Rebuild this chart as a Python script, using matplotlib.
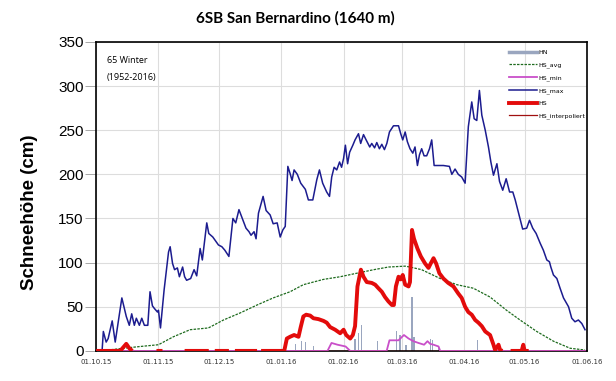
import numpy as np
import pandas as pd
import matplotlib
matplotlib.use('Agg')
import matplotlib.pyplot as plt
import matplotlib.dates as mdates
from matplotlib.lines import Line2D

start = pd.Timestamp('2015-10-01')

# HS_max (blue)
max_days = [0, 3, 3.6, 5, 6, 8, 9.5, 12.8, 15, 16.5, 17.7, 19, 20, 21.5, 22.7, 24, 25.7, 26.8, 28, 29, 30.5, 31, 32,
            33.8, 36, 36.8, 38, 39, 40.4, 41.4, 43, 44, 45, 47, 48.7, 50, 51.7, 52.8, 55, 56, 58, 60.8, 62.5, 64, 66,
            68, 69.4, 71, 73, 74.5, 76, 77, 78.5, 79.5, 80.7, 83, 84.5, 86.5, 88, 90, 91.5, 92.8, 94, 95.3, 96.4,
            97.4, 98.4, 100, 101.7, 104, 105.5, 107.7, 109.7, 111, 112.6, 114.6, 116, 117.1, 118.3, 119.6, 121, 122,
            123, 123.9, 125, 126, 127.6, 128.7, 130.4, 131.5, 132.9, 134.2, 136, 137, 138.4, 139.5, 140.8, 142,
            143.3, 144.5, 145.8, 147.8, 150.3, 151.4, 152.4, 153.6, 154.7, 156, 157.4, 158.5, 159.7, 160.7, 161.8,
            163, 164.3, 165.7, 166.8, 168, 170.2, 172.6, 175.6, 176.8, 178.4, 180, 181.7, 183.4, 185, 186.7, 187.9,
            189.2, 190.5, 191.7, 193.4, 195, 196.2, 197.5, 199.2, 200.5, 202.1, 203.8, 205.5, 207.1, 208.3, 210,
            212, 214, 215.4, 217, 218.7, 220.7, 222.3, 224, 225.3, 226, 227.3, 229, 230.6, 232.3, 234.8, 236.4, 238,
            239.7, 241.4, 243]
max_vals = [1, 1, 22, 10, 14, 34, 10, 60, 39, 29, 42, 29, 37, 29, 37, 29, 29, 67, 51, 48, 44, 46, 26,
            69, 112, 118, 99, 92, 94, 84, 95, 84, 80, 82, 92, 85, 116, 103, 145, 133, 129, 120, 118, 114, 107,
            150, 145, 160, 148, 139, 135, 131, 135, 127, 156, 175, 159, 154, 144, 145, 129, 137, 141, 209, 201,
            193, 205, 200, 190, 183, 171, 171, 194, 205, 190, 180, 175, 197, 208, 205, 214, 208,
            218, 233, 212, 225, 233, 239, 246, 235, 245, 239, 231, 235, 230, 236, 229, 234,
            228, 235, 248, 255, 255, 246, 239, 248, 237, 229, 224, 231, 210, 222, 229,
            221, 221, 229, 239, 210, 210, 210, 209, 200, 206, 200, 197, 190, 254, 282, 263,
            261, 295, 267, 250, 231, 214, 199, 212, 192, 182, 195, 180, 180, 171, 156,
            138, 139, 148, 139, 133, 122, 114, 103, 101, 95, 86, 82, 71, 60, 50, 37, 33,
            35, 31, 24]

# HS_avg (green dotted)
avg_days = [0, 6, 13.6, 22, 31, 38.4, 46.7, 55.8, 63.3, 71.6, 80, 88, 96.4, 103, 113, 121.3, 129.6, 138, 145.3,
            153.6, 156, 161.8, 171, 179.3, 187.5, 195.8, 204, 210.7, 219, 227.3, 235.6, 243]
avg_vals = [0, 1, 3, 5, 7, 16, 24, 26, 35, 43, 52, 60, 67, 75, 81, 84, 88, 92, 95,
            96, 95, 92, 82, 75, 71, 61, 46, 35, 22, 11, 3, 1]

# HS_min (magenta)
min_days = [0, 115, 117, 120, 124, 126.3, 144.4, 145.8, 150.3, 153, 155.3, 157.7, 160.2, 163, 164.7, 166,
            167.7, 170.2, 171, 243]
min_vals = [0, 0, 9, 7, 5, 0, 0, 12, 12, 18, 14, 11, 9, 7, 11, 8, 7, 5, 0, 0]

# HS (red), nan = no measurement
hs_days = [0, 3, 12, 13.5, 15, 16.5, 18, np.nan, 30, 33, np.nan, 44, 56, np.nan, 59, 66, np.nan, 69, 80, np.nan,
           82, 93.5, 94.8, 96.4, 98.4, 100.6, 101.7, 103, 104.4, 106.4, 108, 110.5, 113, 114.6, 116.3, 118.8,
           121.3, 123, 124.3, 126.3, 127.6, 128.7, 129.9, 131.6, 132.9, 134.5, 137, 138.7, 140.3, 142, 143.6,
           145.3, 147, 148, 149, 150.3, 151.4, 152.4, 153.6, 155.3, 156, 157, 158, 159.7, 161.4, 163.5, 165.2,
           166.3, 167.7, 169, 170.6, 172.6, 175, 177.6, 180, 181.7, 183.4, 185, 186.7, 188.4, 190, 191.7, 193.4,
           195.8, 197.5, 198.3, 200, 200.8, 202, np.nan, 206, 211.5, 212.3, 213, 215]
hs_vals = [0, 0, 0, 4, 8, 3, 0, np.nan, 0, 0, np.nan, 0, 0, np.nan, 0, 0, np.nan, 0, 0, np.nan,
           0, 0, 14, 16, 18, 16, 27, 39, 41, 40, 37, 36, 34, 32, 27, 24,
           20, 24, 18, 14, 18, 28, 73, 92, 84, 78, 77, 75, 71, 67, 61,
           56, 52, 52, 73, 84, 81, 86, 75, 73, 78, 137, 127, 116, 107, 99, 94,
           99, 105, 99, 88, 82, 77, 73, 65, 60, 50, 44, 41, 35, 32, 28, 22,
           18, 7, 1, 7, 1, 0, np.nan, 0, 0, 7, 0, 0]

# HS_interpoliert (dark red, thin)
interp_days = [0, 243]
interp_vals = [0, 0]

# HN (new snow bars)
hn_days = [99, 102, 104, 108, 128.7, 130.4, 132, 139.8, 149.4, 151, 154, 157, 158, 166.3, 167.3, 170, 189.7]
hn_vals = [8, 11, 10, 5, 14, 20, 29, 11, 22, 18, 7, 61, 16, 14, 12, 5, 12]

month_ticks = ['2015-10-01', '2015-11-01', '2015-12-01', '2016-01-01', '2016-02-01', '2016-03-01',
               '2016-04-01', '2016-05-01', '2016-06-01']


def to_dates(days):
    out = []
    for d in days:
        if np.isnan(d):
            out.append(pd.NaT)
        else:
            out.append(start + pd.Timedelta(days=float(d)))
    return pd.to_datetime(out)


c_hn = '#9aa6bf'
c_avg = '#1e6b1e'
c_min = '#c94fc9'
c_max = '#1c1c8f'
c_hs = '#e30b0b'
c_int = '#a01010'

fig = plt.figure(figsize=(6.16, 3.81), dpi=100)
ax = fig.add_axes([0.156, 0.079, 0.797, 0.811])

ax.bar(to_dates(hn_days), hn_vals, width=0.6, color=c_hn, zorder=2)
ax.plot(to_dates(avg_days), avg_vals, color=c_avg, lw=0.9, ls=(0, (2, 1)), zorder=3)
ax.plot(to_dates(min_days), min_vals, color=c_min, lw=1.3, zorder=3)
ax.plot(to_dates(max_days), max_vals, color=c_max, lw=1.1, zorder=4)
ax.plot(to_dates(interp_days), interp_vals, color=c_int, lw=0.9, zorder=4)
ax.plot(to_dates(hs_days), np.array(hs_vals, dtype=float), color=c_hs, lw=2.8, zorder=5, solid_capstyle='butt')

ax.set_xlim(pd.Timestamp(month_ticks[0]), pd.Timestamp(month_ticks[-1]))
ax.set_ylim(0, 350)
ax.set_xticks(pd.to_datetime(month_ticks))
ax.xaxis.set_major_formatter(mdates.DateFormatter('%d.%m.%y'))
ax.set_yticks(range(0, 351, 50))
ax.tick_params(axis='x', labelsize=5, length=0, pad=6, colors='#333333')
ax.tick_params(axis='y', labelsize=11, length=8, width=0.6, pad=1, direction='out', color='#999999')
for lbl in ax.get_yticklabels():
    lbl.set_family('Liberation Sans')
ax.grid(True, color='#dddddd', lw=0.8)
ax.set_axisbelow(True)
for s in ax.spines.values():
    s.set_linewidth(1.2)
    s.set_color('black')

ax.set_ylabel('Schneehöhe (cm)', fontsize=13.5, fontweight='bold', family='Liberation Sans')
ax.yaxis.set_label_coords(-0.118, 0.45)

ax.text(0.022, 0.955, '65 Winter', transform=ax.transAxes, fontsize=6.5, family='Open Sans', va='top')
ax.text(0.022, 0.898, '(1952-2016)', transform=ax.transAxes, fontsize=6.5, family='Open Sans', va='top')

fig.text(0.48, 0.952, '6SB San Bernardino (1640 m)', ha='center', va='center', fontsize=11,
         fontweight='bold', family='Lato')

handles = [
    Line2D([], [], color=c_hn, lw=2.5),
    Line2D([], [], color=c_avg, lw=0.9, ls=(0, (2, 1))),
    Line2D([], [], color=c_min, lw=1.3),
    Line2D([], [], color=c_max, lw=1.1),
    Line2D([], [], color=c_hs, lw=2.8),
    Line2D([], [], color=c_int, lw=0.9),
]
labels = ['HN', 'HS_avg', 'HS_min', 'HS_max', 'HS', 'HS_interpoliert']
ax.legend(handles, labels, loc='upper left', fontsize=4.5, frameon=False, handlelength=4.6,
          labelspacing=1.1, bbox_to_anchor=(0.83, 0.99), handletextpad=0.1, borderpad=0.3)

fig.savefig('out.png', dpi=100)
